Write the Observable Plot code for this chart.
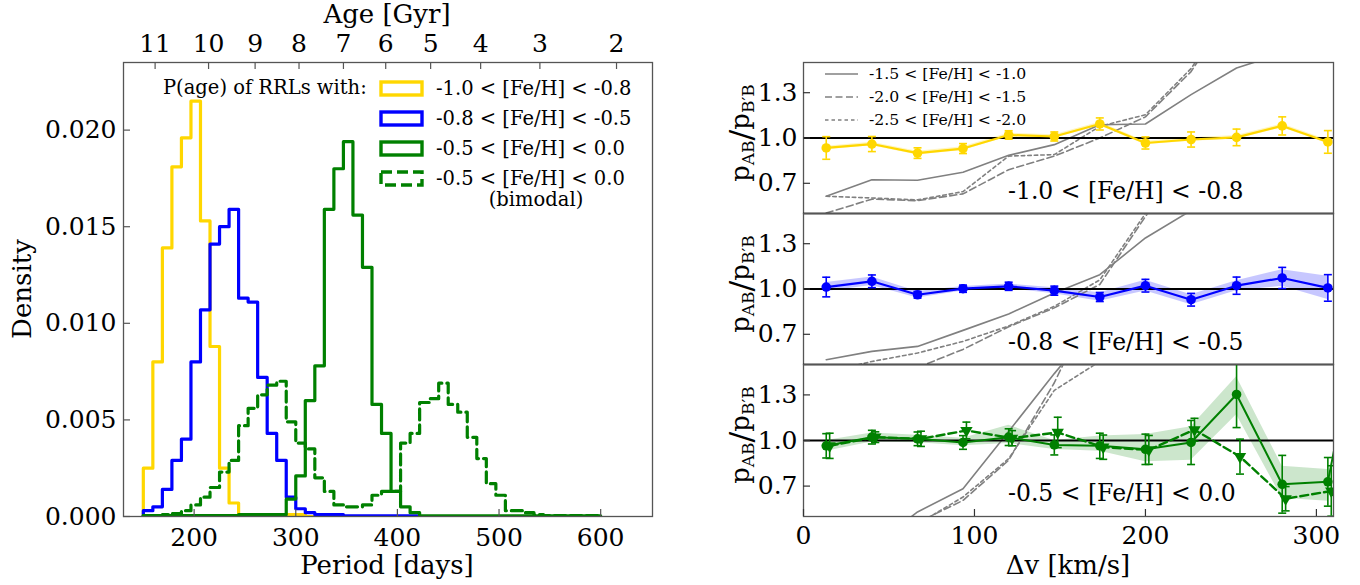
<!DOCTYPE html>
<html>
<head>
<meta charset="utf-8">
<script src="https://cdn.jsdelivr.net/npm/d3@7"></script>
<script src="https://cdn.jsdelivr.net/npm/@observablehq/plot@0.6"></script>
<style>
html,body{margin:0;padding:0;background:#fff}
#wrap{position:relative;width:1360px;height:585px;overflow:hidden;background:#fff;font-family:"DejaVu Serif",serif;color:#000}
#wrap svg{position:absolute;left:0;top:0}
.t{position:absolute;white-space:nowrap;line-height:0.8}
.c{transform:translate(-50%,-50%)}
.ylab{position:absolute;white-space:nowrap;line-height:1;transform:translate(-50%,-50%) rotate(-90deg);font-size:26px}
.ylab sub{font-size:17px;vertical-align:-5px}
.ylab .sl{font-size:32px;vertical-align:-3px}
</style>
</head>
<body>
<div id="wrap"></div>
<script>
const W = 1360, H = 585;

// ---------------- LEFT: histograms of period ----------------
const periodBinStart = 150, periodBinWidth = 9.375, nBins = 48;
const densYellow = [0.0025,0.0080,0.0139,0.0181,0.0196,0.0215,0.0153,0.0088,0.0025,0.0007,
  0.0001,0,0,0,0,0.0001,0.0001,0,0,0,
  0,0,0,0,0,0,0,0,0,0,
  0,0,0,0,0,0,0,0,0,0,
  0,0,0,0,0,0,0,0];
const densBlue = [0.0003,0.0005,0.0014,0.0029,0.0040,0.0080,0.0107,0.0141,0.0150,0.0159,
  0.0113,0.0111,0.0072,0.0043,0.0029,0.0010,0.0004,0.0002,0.0001,0.0001,
  0.0001,0.00003,0.00003,0.00003,0.00003,0.00003,0.00003,0.00003,0.00003,0,
  0,0,0,0,0,0,0,0,0,0,
  0,0,0,0,0,0,0,0];
const densGreen = [0.00005,0.00005,0.00005,0.00005,0.00005,0.00005,0.00005,0.00005,0.00005,0.00005,
  0.0001,0.0001,0.0001,0.0001,0.0001,0.0009,0.0021,0.0060,0.0078,0.0159,
  0.0180,0.0194,0.0156,0.0129,0.0058,0.0043,0.0013,0.0005,0.0002,0.00003,
  0.00003,0.00003,0.00003,0.00003,0.00003,0.00003,0.00003,0.00003,0.00003,0.00003,
  0.00003,0.00003,0.00003,0.00003,0.00003,0.00003,0.00003,0.00003];
const densGreenBimodal = [0.00005,0.00005,0.0001,0.00015,0.0003,0.0006,0.0010,0.0015,0.0023,0.0029,
  0.0047,0.0056,0.0063,0.0068,0.0070,0.0049,0.0038,0.0035,0.0020,0.0013,
  0.0006,0.0005,0.0005,0.0006,0.0011,0.0013,0.0013,0.0038,0.0043,0.0059,
  0.0061,0.0069,0.0058,0.0054,0.0041,0.0030,0.0017,0.0011,0.0003,0.0003,
  0.0002,0.0001,0.00005,0.00005,0.00005,0.00005,0.00005,0.00005];

const densityTicks = [0, 0.005, 0.010, 0.015, 0.020];
const periodTicks = [200, 300, 400, 500, 600];
const ageTickLabels = ["11","10","9","8","7","6","5","4","3","2"];
const ageTickPeriods = [161.6, 214.2, 260.0, 303.2, 346.9, 388.5, 432.7, 481.9, 540.2, 615.6];

const histLegend = ["-1.0 < [Fe/H] < -0.8", "-0.8 < [Fe/H] < -0.5", "-0.5 < [Fe/H] < 0.0", "-0.5 < [Fe/H] < 0.0"];

// ---------------- RIGHT: pair ratios vs delta v ----------------
const dv   = [13.3, 40, 66.7, 93.3, 120, 146.7, 173.3, 200, 226.7, 253.3, 280, 306.7];
const dvBi = [15.3, 42, 68.7, 95.3, 122, 148.7, 175.3, 202, 228.7, 255.3, 282, 308.7];

const yel    = [0.934,0.960,0.900,0.930,1.020,1.010,1.093,0.967,0.990,1.004,1.080,0.974];
const yelErr = [0.075,0.050,0.035,0.033,0.028,0.030,0.040,0.040,0.050,0.055,0.060,0.075];
const yelLo  = [0.922,0.948,0.888,0.918,1.008,0.998,1.081,0.955,0.978,0.992,1.068,0.962];
const yelHi  = [0.946,0.972,0.912,0.942,1.032,1.022,1.105,0.979,1.002,1.016,1.092,0.986];

const blu    = [1.013,1.051,0.962,1.002,1.018,0.989,0.947,1.022,0.929,1.022,1.073,1.007];
const bluErr = [0.065,0.042,0.022,0.024,0.027,0.030,0.030,0.042,0.042,0.057,0.070,0.088];
const bluLo  = [0.983,1.023,0.940,0.987,1.003,0.969,0.919,0.986,0.896,0.989,1.018,0.930];
const bluHi  = [1.043,1.079,0.984,1.017,1.033,1.009,0.975,1.058,0.962,1.055,1.128,1.084];

const grn    = [0.965,1.022,1.011,0.987,1.022,0.971,0.965,0.942,0.987,1.303,0.712,0.728];
const grnErr = [0.080,0.045,0.045,0.045,0.055,0.066,0.083,0.100,0.145,0.218,0.190,0.160];
const grnLo  = [0.930,0.990,0.985,0.965,0.980,0.940,0.930,0.860,0.870,1.170,0.620,0.600];
const grnHi  = [1.000,1.050,1.035,1.015,1.100,1.000,1.030,1.040,1.090,1.420,0.830,0.810];
const grnTailDv = 333.3, grnTail = 2.25;

const grnBi    = [0.965,1.022,1.011,1.066,1.015,1.053,0.956,0.938,1.071,0.894,0.617,0.668];
const grnBiErr = [0.083,0.035,0.050,0.055,0.050,0.100,0.080,0.095,0.075,0.115,0.080,0.166];

const g1Solid = [0.614,0.724,0.720,0.773,0.885,0.956,1.088,1.093,1.287,1.464,1.560,1.660];
const g1Dash  = [0.503,0.595,0.585,0.630,0.790,0.880,1.000,1.140,1.440,1.900,2.200,2.400];
const g1Dot   = [0.614,0.603,0.590,0.645,0.880,0.890,1.077,1.154,1.460,1.900,2.200,2.400];
const g2Solid = [0.532,0.587,0.620,0.726,0.834,0.974,1.095,1.338,1.520,1.700,1.900,2.100];
const g2Dash  = [0.330,0.410,0.480,0.600,0.750,0.875,1.030,1.480,1.900,2.300,2.500,2.700];
const g2Dot   = [0.450,0.520,0.576,0.653,0.755,0.885,1.060,1.500,1.900,2.300,2.500,2.700];
const g3Solid = [0.100,0.300,0.530,0.683,1.060,1.440,1.800,2.000,2.200,2.400,2.600,2.800];
const g3Dash  = [0.100,0.250,0.460,0.606,0.870,1.380,2.000,2.200,2.400,2.600,2.800,3.000];
const g3Dot   = [0.100,0.250,0.450,0.628,0.880,1.330,1.520,1.600,1.700,1.800,1.900,2.000];

const ratioTicks = [0.7, 1.0, 1.3];
const dvTicks = [0, 100, 200, 300];
const grayLegend = ["-1.5 < [Fe/H] < -1.0", "-2.0 < [Fe/H] < -1.5", "-2.5 < [Fe/H] < -2.0"];
const panelLabels = ["-1.0 < [Fe/H] < -0.8", "-0.8 < [Fe/H] < -0.5", "-0.5 < [Fe/H] < 0.0"];

const GOLD = "#FFD700", BLUE = "#0000FF", GREEN = "#008000", GRAY = "#808080", FRAME = "#555";
const FONT = "DejaVu Serif";
const wrap = document.getElementById("wrap");

// ---------- left plot ----------
const L = {l: 123, r: 652, t: 62, b: 516};
const edges = d3.range(nBins + 1).map(i => periodBinStart + i * periodBinWidth);
function stepPts(vals) {
  const pts = [{x: edges[0], y: 0}];
  vals.forEach((v, i) => { pts.push({x: edges[i], y: v}); pts.push({x: edges[i + 1], y: v}); });
  pts.push({x: edges[nBins], y: 0});
  return pts;
}
const ageMap = new Map(ageTickPeriods.map((p, i) => [p, ageTickLabels[i]]));
const hist = Plot.plot({
  width: W, height: H,
  marginLeft: L.l, marginRight: W - L.r, marginTop: L.t, marginBottom: H - L.b,
  style: {background: "transparent", fontFamily: FONT, fontSize: "25px", color: "#000", overflow: "visible"},
  x: {domain: [130.5, 651], label: null, axis: null},
  y: {domain: [0, 0.0235], label: null, axis: null},
  marks: [
    Plot.line(stepPts(densYellow), {x: "x", y: "y", stroke: GOLD, strokeWidth: 3.2, clip: true}),
    Plot.line(stepPts(densBlue), {x: "x", y: "y", stroke: BLUE, strokeWidth: 3.2, clip: true}),
    Plot.line(stepPts(densGreen), {x: "x", y: "y", stroke: GREEN, strokeWidth: 3.2, clip: true}),
    Plot.line(stepPts(densGreenBimodal), {x: "x", y: "y", stroke: GREEN, strokeWidth: 3.2, strokeDasharray: "11,5", clip: true}),
    Plot.frame({stroke: FRAME, strokeWidth: 1.3}),
    Plot.tickY(densityTicks, {y: d => d, stroke: FRAME, strokeWidth: 1.2, insetRight: (L.r - L.l) - 7}),
    Plot.tickX(periodTicks, {x: d => d, stroke: FRAME, strokeWidth: 1.2, insetTop: (L.b - L.t) - 7}),
    Plot.tickX(ageTickPeriods, {x: d => d, stroke: FRAME, strokeWidth: 1.2, insetBottom: (L.b - L.t) - 7}),
    Plot.axisY(densityTicks, {anchor: "left", tickSize: 0, tickPadding: 7, tickFormat: d3.format(".3f"), fontSize: 25, label: null}),
    Plot.axisX(periodTicks, {anchor: "bottom", tickSize: 0, tickPadding: 12, tickFormat: d => String(d), fontSize: 25, label: null}),
    Plot.axisX(ageTickPeriods, {anchor: "top", tickSize: 0, tickPadding: 11, tickFormat: d => ageMap.get(d), fontSize: 25, label: null})
  ]
});
wrap.appendChild(hist);

// ---------- right panels ----------
const R = {l: 803, r: 1333};
const panelsY = [[62, 213], [213, 364], [364, 516]];
const capSymbol = {draw(ctx, size) { const r = Math.sqrt(size / Math.PI); ctx.moveTo(-r, 0); ctx.lineTo(r, 0); }};

function errMarks(rows, color) {
  return [
    Plot.ruleX(rows, {x: "x", y1: d => d.y - d.e, y2: d => d.y + d.e, stroke: color, strokeWidth: 1.6, clip: true}),
    Plot.dot(rows, {x: "x", y: d => d.y + d.e, symbol: capSymbol, r: 4, stroke: color, fill: "none", strokeWidth: 1.6, clip: true}),
    Plot.dot(rows, {x: "x", y: d => d.y - d.e, symbol: capSymbol, r: 4, stroke: color, fill: "none", strokeWidth: 1.6, clip: true})
  ];
}
function grayMarks(s, da, dt) {
  const rows = dv.map((x, i) => ({x, s: s[i], da: da[i], dt: dt[i]}));
  return [
    Plot.line(rows, {x: "x", y: "s", stroke: GRAY, strokeWidth: 1.6, clip: true}),
    Plot.line(rows, {x: "x", y: "da", stroke: GRAY, strokeWidth: 1.6, strokeDasharray: "7,3.5", clip: true}),
    Plot.line(rows, {x: "x", y: "dt", stroke: GRAY, strokeWidth: 1.6, strokeDasharray: "3.5,3", clip: true})
  ];
}
function panel(idx, marks, showX) {
  const [t, b] = panelsY[idx];
  const fh = b - t;
  const m = [
    ...marks,
    Plot.frame({stroke: FRAME, strokeWidth: 1.3}),
    Plot.tickY(ratioTicks, {y: d => d, stroke: "#333", strokeWidth: 1.2, insetRight: (R.r - R.l) - 7}),
    Plot.axisY(ratioTicks, {anchor: "left", tickSize: 0, tickPadding: 6, tickFormat: d3.format(".1f"), fontSize: 25, label: null})
  ];
  if (idx < 2) m.push(Plot.ruleY([0.5], {stroke: "#000", strokeWidth: 1.4}));
  if (showX) {
    m.push(Plot.tickX(dvTicks, {x: d => d, stroke: "#333", strokeWidth: 1.2, insetTop: fh - 7}));
    m.push(Plot.axisX(dvTicks, {anchor: "bottom", tickSize: 0, tickPadding: 10, tickFormat: d => String(d), fontSize: 25, label: null}));
  }
  const p = Plot.plot({
    width: W, height: H,
    marginLeft: R.l, marginRight: W - R.r, marginTop: t, marginBottom: H - b,
    style: {background: "transparent", fontFamily: FONT, fontSize: "25px", color: "#000", overflow: "visible"},
    x: {domain: [0, 310], label: null, axis: null},
    y: {domain: [0.5, 1.5], label: null, axis: null},
    marks: m
  });
  wrap.appendChild(p);
}

// panel 1 (gold)
const rowsY = dv.map((x, i) => ({x, y: yel[i], e: yelErr[i], lo: yelLo[i], hi: yelHi[i]}));
panel(0, [
  Plot.areaY(rowsY, {x: "x", y1: "lo", y2: "hi", fill: GOLD, fillOpacity: 0.25, clip: true}),
  ...grayMarks(g1Solid, g1Dash, g1Dot),
  Plot.ruleY([1], {stroke: "#000", strokeWidth: 2}),
  Plot.line(rowsY, {x: "x", y: "y", stroke: GOLD, strokeWidth: 2.2, clip: true}),
  ...errMarks(rowsY, GOLD),
  Plot.dot(rowsY, {x: "x", y: "y", r: 4.8, fill: GOLD, clip: true})
], false);

// panel 2 (blue)
const rowsB = dv.map((x, i) => ({x, y: blu[i], e: bluErr[i], lo: bluLo[i], hi: bluHi[i]}));
panel(1, [
  Plot.areaY(rowsB, {x: "x", y1: "lo", y2: "hi", fill: BLUE, fillOpacity: 0.22, clip: true}),
  ...grayMarks(g2Solid, g2Dash, g2Dot),
  Plot.ruleY([1], {stroke: "#000", strokeWidth: 2}),
  Plot.line(rowsB, {x: "x", y: "y", stroke: BLUE, strokeWidth: 2.2, clip: true}),
  ...errMarks(rowsB, BLUE),
  Plot.dot(rowsB, {x: "x", y: "y", r: 4.8, fill: BLUE, clip: true})
], false);

// panel 3 (green)
const rowsG = dv.map((x, i) => ({x, y: grn[i], e: grnErr[i], lo: grnLo[i], hi: grnHi[i]}));
const rowsGline = [...rowsG, {x: grnTailDv, y: grnTail}];
const rowsGB = dvBi.map((x, i) => ({x, y: grnBi[i], e: grnBiErr[i]}));
panel(2, [
  Plot.areaY(rowsG, {x: "x", y1: "lo", y2: "hi", fill: GREEN, fillOpacity: 0.2, clip: true}),
  ...grayMarks(g3Solid, g3Dash, g3Dot),
  Plot.ruleY([1], {stroke: "#000", strokeWidth: 2}),
  Plot.line(rowsGline, {x: "x", y: "y", stroke: GREEN, strokeWidth: 2, clip: true}),
  Plot.line(rowsGB, {x: "x", y: "y", stroke: GREEN, strokeWidth: 2.4, strokeDasharray: "8,4", clip: true}),
  ...errMarks(rowsG, GREEN),
  ...errMarks(rowsGB, GREEN),
  Plot.dot(rowsG, {x: "x", y: "y", r: 4.8, fill: GREEN, clip: true}),
  Plot.dot(rowsGB, {x: "x", y: "y", r: 4.6, symbol: "triangle", rotate: 180, fill: GREEN, clip: true})
], true);

// ---------- legends (overlay svg) ----------
const ov = d3.create("svg").attr("width", W).attr("height", H).attr("viewBox", `0 0 ${W} ${H}`)
  .style("font-family", FONT);
const legColors = [GOLD, BLUE, GREEN, GREEN];
const legRows = [88.5, 118.5, 148.5, 178.5];
legRows.forEach((y, i) => {
  ov.append("rect").attr("x", 381).attr("y", y - 6.5).attr("width", 41).attr("height", 13)
    .attr("fill", "none").attr("stroke", legColors[i]).attr("stroke-width", 3.4)
    .attr("stroke-dasharray", i === 3 ? "11,5" : null);
  ov.append("text").attr("x", 436).attr("y", y).attr("dy", "0.35em").attr("font-size", 19.5).text(histLegend[i]);
});
ov.append("text").attr("x", 536).attr("y", 199).attr("dy", "0.35em").attr("font-size", 19.5).attr("text-anchor", "middle").text("(bimodal)");
ov.append("text").attr("x", 163).attr("y", 87).attr("dy", "0.35em").attr("font-size", 19.5).text("P(age) of RRLs with:");

const gRows = [74, 97, 120];
const gDash = [null, "7,3.5", "3.5,3"];
gRows.forEach((y, i) => {
  ov.append("line").attr("x1", 825).attr("x2", 858).attr("y1", y).attr("y2", y)
    .attr("stroke", GRAY).attr("stroke-width", 1.6).attr("stroke-dasharray", gDash[i]);
  ov.append("text").attr("x", 869).attr("y", y).attr("dy", "0.35em").attr("font-size", 15.7).text(grayLegend[i]);
});
const pLabY = [191, 342, 493];
pLabY.forEach((y, i) => {
  ov.append("text").attr("x", 1008).attr("y", y).attr("dy", "0.35em").attr("font-size", 23.5).text(panelLabels[i]);
});
wrap.appendChild(ov.node());

// ---------- axis titles ----------
function addText(html, x, y, size, cls) {
  const d = document.createElement("div");
  d.className = cls || "t c";
  d.style.left = x + "px"; d.style.top = y + "px";
  if (size) d.style.fontSize = size + "px";
  d.innerHTML = html;
  wrap.appendChild(d);
  return d;
}
addText("Age [Gyr]", 387, 14, 26);
addText("Period [days]", 387, 565, 26);
addText("\u0394v [km/s]", 1068, 565, 26);
const dens = addText("Density", 22, 289, 26);
dens.style.transform = "translate(-50%,-50%) rotate(-90deg)";
[133, 284, 435].forEach(y => {
  addText('p<sub>AB</sub><span class="sl">/</span>p<sub>B\u2032B</sub>', 741, y, null, "ylab");
});
</script>
</body>
</html>
